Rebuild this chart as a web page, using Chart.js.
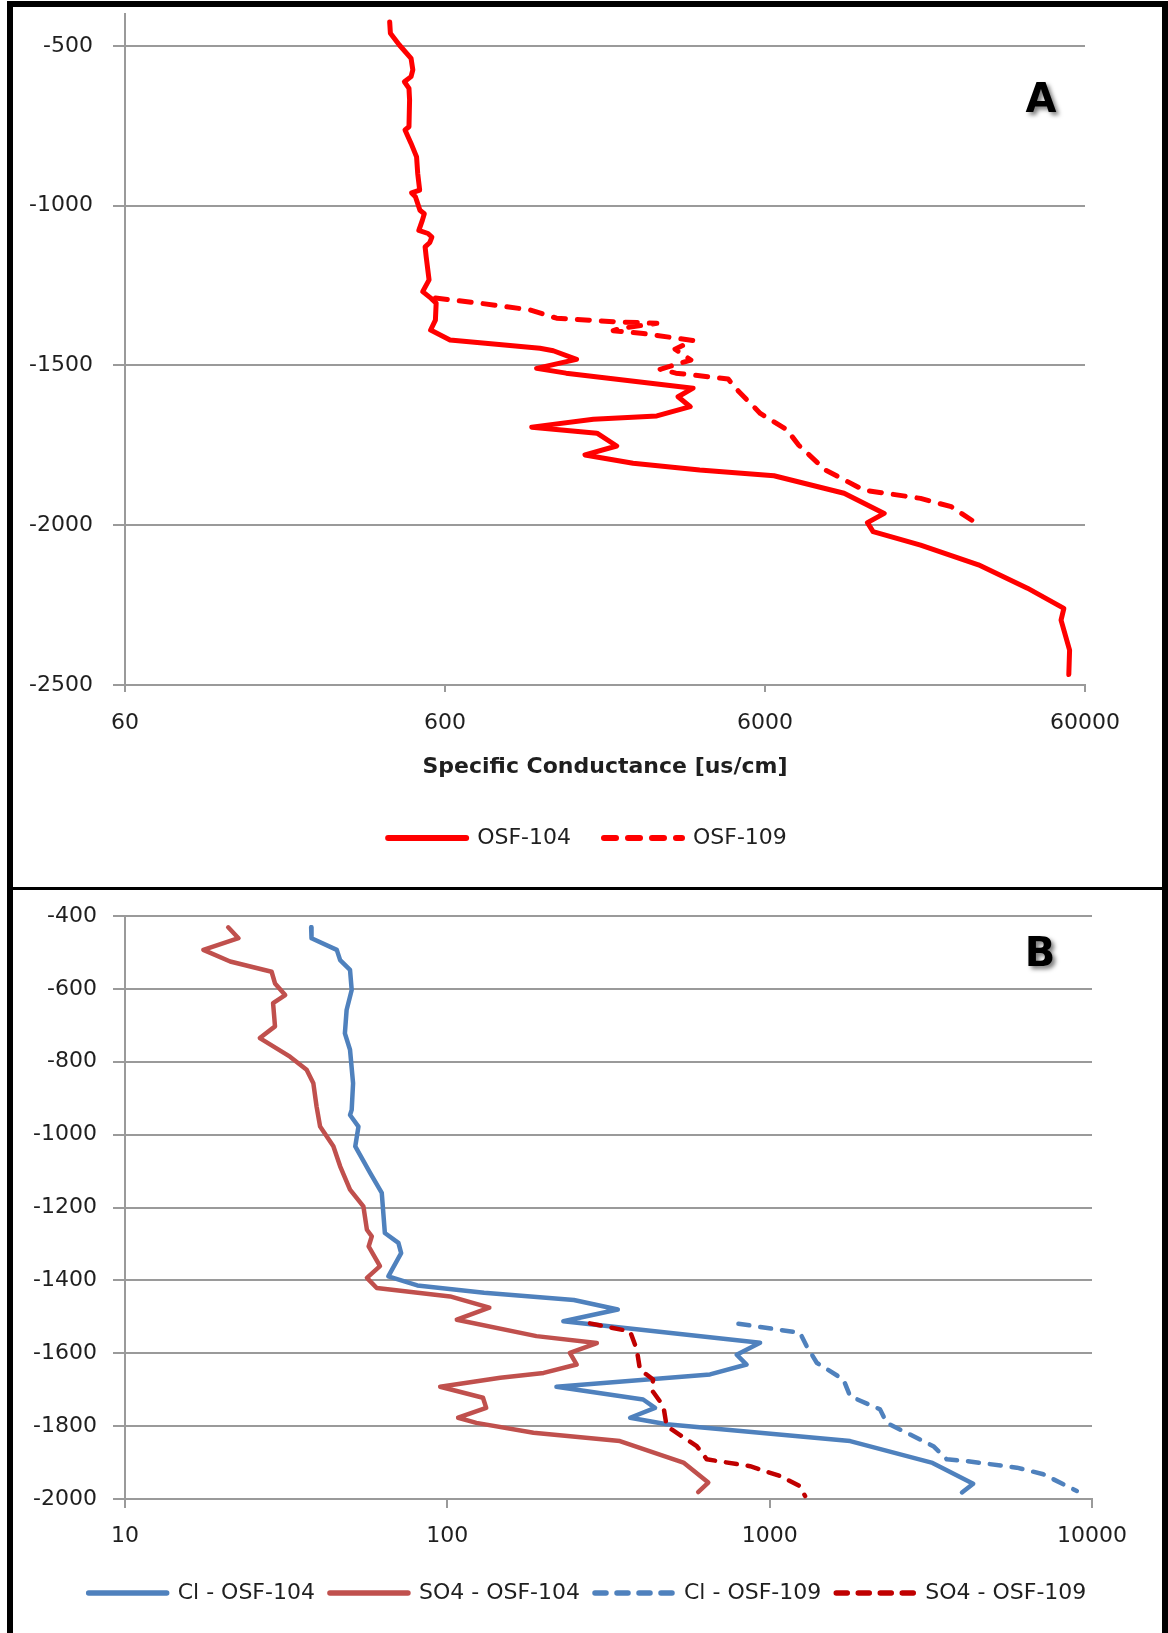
<!DOCTYPE html>
<html>
<head>
<meta charset="utf-8">
<title>Specific conductance and Cl / SO4 profiles</title>
<script src="https://cdn.jsdelivr.net/npm/chart.js@4.4.0/dist/chart.umd.min.js"></script>
<style>
  html, body { margin: 0; padding: 0; background: #fff; }
  body { width: 1168px; height: 1633px; position: relative; overflow: hidden; }
  #frame { position: absolute; left: 7px; top: 1px; width: 1161px; height: 1700px;
           border: 6px solid #000; box-sizing: border-box; }
  #divider { position: absolute; left: 7px; top: 887px; width: 1161px; height: 3px; background: #000; }
  #chartA { position: absolute; left: 13px; top: 7px; }
  #chartB { position: absolute; left: 13px; top: 890px; }
</style>
</head>
<body>
<div id="frame"></div>
<div id="divider"></div>
<canvas id="chartA" width="1149" height="880"></canvas>
<canvas id="chartB" width="1149" height="743"></canvas>

<script>
// ---- DATA: panel A (specific conductance) ----
const condTicks = [60, 600, 6000, 60000];
const depthTicksA = [-2500, -2000, -1500, -1000, -500];

const osf104Depth = [-425, -460, -497, -539, -575, -596, -612, -633, -669, -753, -763, -805, -847, -899, -951, -960, -972,
  -1014, -1025, -1045, -1077, -1087, -1098, -1115, -1129, -1160, -1232, -1269, -1290, -1305, -1358, -1389, -1420, -1446,
  -1454, -1481, -1509, -1524, -1571, -1598, -1629, -1658, -1668, -1693, -1712, -1752, -1780, -1806, -1827, -1845, -1900,
  -1963, -1992, -2020, -2062, -2124, -2197, -2260, -2297, -2391, -2467];
const osf104Cond = [403, 405, 432, 470, 476, 470, 448, 463, 465, 463, 450, 470, 489, 493, 500, 472, 485,
  501, 517, 510, 497, 531, 546, 538, 520, 524, 535, 511, 543, 563, 560, 541, 622, 1188,
  1308, 1546, 1160, 1434, 3576, 3210, 3505, 2755, 1745, 1120, 1791, 2064, 1643, 2322, 3750, 6400, 10600,
  14150, 12540, 13060, 18380, 27870, 39650, 51540, 50500, 53700, 53400];

const osf109Depth = [-1289, -1305, -1326, -1352, -1363, -1368, -1385, -1391, -1400, -1422, -1449, -1483, -1512, -1524,
  -1542, -1580, -1650, -1702, -1749, -1827, -1890, -1916, -1942, -1989];
const osf109Cond = [560, 770, 1106, 1339, 2013, 2755, 2100, 2013, 2500, 3576, 3140, 3520, 2820, 3160,
  4600, 4950, 5800, 7036, 7640, 9260, 12220, 18380, 22920, 27010];

// ---- DATA: panel B (Cl and SO4) ----
const concTicks = [10, 100, 1000, 10000];
const depthTicksB = [-2000, -1800, -1600, -1400, -1200, -1000, -800, -600, -400];

const cl104Depth = [-431, -461, -493, -521, -548, -603, -658, -722, -767, -859, -932, -946, -978, -1032, -1105, -1160,
  -1270, -1297, -1325, -1389, -1414, -1434, -1454, -1480, -1512, -1571, -1604, -1631, -1658, -1692, -1727, -1750,
  -1777, -1795, -1841, -1901, -1958, -1982];
const cl104Conc = [37.8, 37.9, 45.4, 46.5, 49.9, 50.5, 48.7, 48.1, 49.9, 51.0, 50.5, 49.9, 53.0, 51.8, 57.6, 62.6,
  64.0, 70.5, 71.9, 65.6, 80.7, 130, 247, 338, 229, 934, 790, 848, 653, 218, 405, 441,
  369, 479, 1777, 3200, 4280, 3950];

const so4104Depth = [-431, -461, -493, -525, -553, -585, -617, -639, -703, -735, -786, -822, -859, -923, -978, -1032,
  -1087, -1151, -1197, -1261, -1279, -1307, -1361, -1393, -1421, -1444, -1475, -1508, -1553, -1572, -1599, -1631,
  -1654, -1667, -1692, -1722, -1750, -1777, -1791, -1818, -1841, -1900, -1955, -1981];
const so4104Conc = [20.9, 22.5, 17.5, 21.2, 28.5, 29.2, 31.4, 28.8, 29.2, 26.2, 32.5, 36.6, 38.4, 39.3, 40.3, 44.3,
  46.5, 49.9, 54.9, 56.3, 58.3, 57.0, 61.8, 56.3, 60.4, 102, 135, 107, 189, 291, 240, 252,
  199, 146, 95, 129, 132, 108, 123, 185, 343, 540, 645, 600];

const cl109Depth = [-1519, -1544, -1581, -1626, -1672, -1718, -1754, -1791, -1855, -1891, -1896, -1914, -1932, -1960, -1978];
const cl109Conc = [800, 1242, 1303, 1400, 1693, 1777, 2200, 2306, 3220, 3544, 4092, 5844, 7063, 8160, 8974];

const so4109Depth = [-1518, -1540, -1590, -1645, -1672, -1700, -1745, -1800, -1855, -1891, -1910, -1937, -1965, -1992];
const so4109Conc = [277, 369, 387, 396, 435, 430, 468, 479, 594, 638, 869, 1077, 1242, 1288];

// ---- HELPERS ----
const FONT = '"DejaVu Sans", Verdana, sans-serif';
const TEXT = '#1f1f1f';
const GRID = '#9a9a9a';

function toPoints(depths, values) {
  return depths.map((d, i) => ({ x: values[i], y: d }));
}

function series(label, depths, values, color, width, dash, order) {
  return {
    label: label,
    data: toPoints(depths, values),
    borderColor: color,
    backgroundColor: color,
    borderWidth: width,
    borderDash: dash,
    borderCapStyle: 'round',
    borderJoinStyle: 'round',
    pointRadius: 0,
    pointHoverRadius: 0,
    tension: 0,
    showLine: true,
    order: order
  };
}

// legend samples: take dash / width / cap from the dataset line, not the point
function lineLegendLabels(chart) {
  const items = Chart.defaults.plugins.legend.labels.generateLabels(chart);
  items.forEach((item) => {
    const ds = chart.data.datasets[item.datasetIndex];
    item.lineDash = ds.borderDash;
    item.lineWidth = ds.borderWidth + 1;
    item.lineCap = ds.borderCapStyle;
    item.strokeStyle = ds.borderColor;
    item.fillStyle = ds.borderColor;
    item.pointStyle = 'line';
  });
  return items;
}

// big bold panel letter with a soft shadow
const panelLetter = {
  id: 'panelLetter',
  afterDraw(chart, args, opts) {
    const ctx = chart.ctx;
    ctx.save();
    ctx.font = 'bold 40px ' + FONT;
    ctx.textAlign = 'center';
    ctx.textBaseline = 'alphabetic';
    ctx.shadowColor = 'rgba(0,0,0,0.5)';
    ctx.shadowOffsetX = 3;
    ctx.shadowOffsetY = 3;
    ctx.shadowBlur = 4;
    ctx.fillStyle = '#000';
    ctx.fillText(opts.text, opts.x, opts.y);
    ctx.restore();
  }
};

function buildOptions(cfg) {
  return {
    responsive: false,
    animation: false,
    devicePixelRatio: 1,
    layout: { padding: { top: cfg.top, left: 0, right: 0, bottom: cfg.bottom } },
    plugins: {
      legend: {
        position: 'bottom',
        labels: {
          usePointStyle: true,
          pointStyle: 'line',
          pointStyleWidth: 78,
          padding: cfg.legendPad,
          color: TEXT,
          font: { family: FONT, size: 22 },
          generateLabels: lineLegendLabels,
          sort: (a, b) => a.datasetIndex - b.datasetIndex
        }
      },
      tooltip: { enabled: false },
      panelLetter: cfg.letter
    },
    scales: {
      x: {
        type: 'logarithmic',
        min: cfg.xTicks[0],
        max: cfg.xTicks[cfg.xTicks.length - 1],
        afterBuildTicks: (scale) => { scale.ticks = cfg.xTicks.map(v => ({ value: v })); },
        afterFit: (scale) => {
          scale.height = cfg.xHeight;
          scale.paddingLeft = 0;
          scale.paddingRight = cfg.right;
        },
        grid: { drawOnChartArea: false, drawTicks: true, tickLength: cfg.xTickLen, color: GRID, lineWidth: 2 },
        border: { display: true, color: GRID, width: 2 },
        ticks: {
          padding: cfg.xTickPad,
          color: TEXT,
          font: { family: FONT, size: 22 },
          maxRotation: 0,
          autoSkip: false,
          callback: (v) => String(v)
        },
        title: cfg.xTitle
      },
      y: {
        type: 'linear',
        min: cfg.yTicks[0],
        max: cfg.yMax,
        afterBuildTicks: (scale) => { scale.ticks = cfg.yTicks.map(v => ({ value: v })); },
        afterFit: (scale) => {
          scale.width = 112;
          scale.paddingTop = 0;
          scale.paddingBottom = 0;
        },
        grid: { drawTicks: true, tickLength: 12, color: GRID, lineWidth: 2 },
        border: { display: true, color: GRID, width: 2 },
        ticks: {
          padding: cfg.yTickPad,
          color: TEXT,
          font: { family: FONT, size: 22 },
          autoSkip: false,
          callback: (v) => String(v)
        }
      }
    }
  };
}

// ---- PANEL A ----
new Chart(document.getElementById('chartA'), {
  type: 'scatter',
  data: {
    datasets: [
      series('OSF-104', osf104Depth, osf104Cond, '#ff0000', 5, [], 2),
      series('OSF-109', osf109Depth, osf109Cond, '#ff0000', 5, [12, 12], 1)
    ]
  },
  options: buildOptions({
    top: 7, bottom: 28, right: 77, legendPad: 33,
    xTicks: condTicks, xHeight: 109, xTickLen: 7, xTickPad: 18,
    yTicks: depthTicksA, yMax: -400, yTickPad: 20,
    xTitle: {
      display: true,
      text: 'Specific Conductance [us/cm]',
      color: TEXT,
      font: { family: FONT, size: 22, weight: 'bold' },
      padding: { top: 0, bottom: 14 }
    },
    letter: { text: 'A', x: 1028, y: 105 }
  }),
  plugins: [panelLetter]
});

// ---- PANEL B ----
new Chart(document.getElementById('chartB'), {
  type: 'scatter',
  data: {
    datasets: [
      series('Cl - OSF-104', cl104Depth, cl104Conc, '#4f81bd', 4.5, [], 4),
      series('SO4 - OSF-104', so4104Depth, so4104Conc, '#c0504d', 4.5, [], 3),
      series('Cl - OSF-109', cl109Depth, cl109Conc, '#4f81bd', 4.5, [11, 11], 2),
      series('SO4 - OSF-109', so4109Depth, so4109Conc, '#c00000', 4.5, [11, 11], 1)
    ]
  },
  options: buildOptions({
    top: 26, bottom: 19, right: 70, legendPad: 15,
    xTicks: concTicks, xHeight: 68, xTickLen: 9, xTickPad: 15,
    yTicks: depthTicksB, yMax: -400, yTickPad: 16,
    xTitle: { display: false },
    letter: { text: 'B', x: 1027, y: 76 }
  }),
  plugins: [panelLetter]
});
</script>
</body>
</html>
